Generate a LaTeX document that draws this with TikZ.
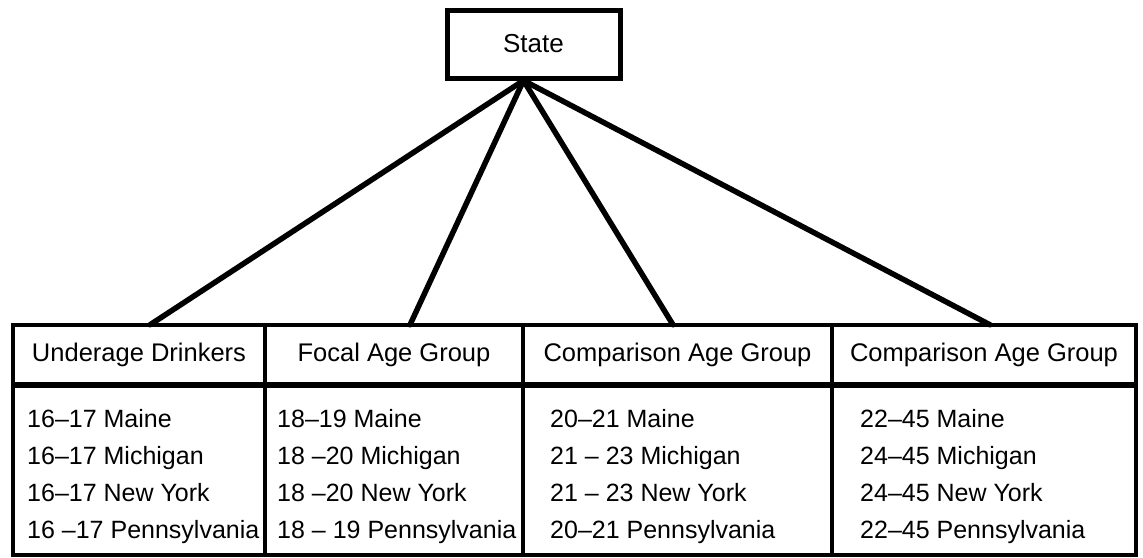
\documentclass[tikz,border=0pt]{standalone}
\usepackage{fontspec}
\setmainfont{Liberation Sans}
\usepackage{tikz}

\begin{document}
\begin{tikzpicture}[x=1pt, y=-1pt]
            \tikzstyle{head} = [minimum height = 60pt, inner sep = 0pt, font = \fontsize{25.5}{30}\selectfont];
            \tikzstyle{rows} = [anchor = north west, align = left, inner sep = 0pt, font = \fontsize{25}{37}\selectfont];
            \tikzstyle{link} = [line width = 5.5pt, line cap = round];
            \useasboundingbox (0,0) rectangle (1143,557);
            \node[draw, line width = 5pt, minimum width = 173pt, minimum height = 68pt, font = \fontsize{26}{30}\selectfont] (state) at (533.5,44) {State};
            \draw[line width = 4.5pt] (13,325) rectangle (1136,555);
            \draw[line width = 6pt] (13,385) -- (1136,385);
            \foreach \x in {265, 523, 832}
            {\draw[line width = 3.5pt] (\x,325) -- (\x,555);}
            \foreach \l/\x/\d/\r/\s[count=\i] in {{Underage Drinkers}/139/27/{16--17 Maine\\16--17 Michigan\\16--17 New York\\16 --17 Pennsylvania}/11,
                {Focal Age Group}/394/277/{18--19 Maine\\18 --20 Michigan\\18 --20 New York\\18 -- 19 Pennsylvania}/16,
                {Comparison Age Group}/677.5/550/{20--21 Maine\\21 -- 23 Michigan\\21 -- 23 New York\\20--21 Pennsylvania}/-4.5,
                {Comparison Age Group}/984/860/{22--45 Maine\\24--45 Michigan\\24--45 New York\\22--45 Pennsylvania}/6}
            {
            \node[head] (hd\i) at (\x,355) {\l};
            \node[rows] (dt\i) at (\d,409) {\r};
            \draw[link] ([xshift=-10pt]state.south) -- ([xshift=\s pt]hd\i.north);}
        \end{tikzpicture}
\end{document}
